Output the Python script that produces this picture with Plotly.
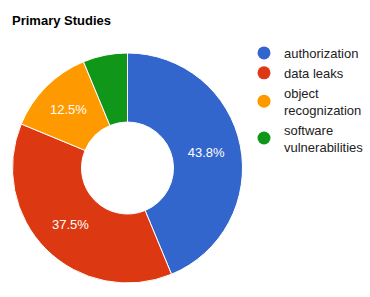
import plotly.graph_objects as go

labels = ["authorization", "data leaks", "object recognization", "software vulnerabilities"]
legend_names = ["authorization", "data leaks", "object<br>recognization", "software<br>vulnerabilities"]
values = [7, 6, 2, 1]
colors = ["#3366cc", "#dc3912", "#ff9900", "#109618"]
show_text = [True, True, True, False]

FONT = "Liberation Sans, Arial, sans-serif"

fig = go.Figure()
fig.add_trace(go.Pie(
    labels=labels,
    values=values,
    hole=0.4,
    sort=False,
    direction="clockwise",
    rotation=0,
    marker=dict(colors=colors, line=dict(color="white", width=1)),
    texttemplate=["%{percent:.1%}" if s else "" for s in show_text],
    textposition="inside",
    insidetextorientation="horizontal",
    textfont=dict(color="white", size=13, family=FONT),
    showlegend=False,
    domain=dict(x=[12/370, 243/370], y=[14/297, 244/297]),
    hoverinfo="label+percent",
))

for name, c in zip(legend_names, colors):
    fig.add_trace(go.Scatter(
        x=[None], y=[None], mode="markers", name=name,
        marker=dict(color=c, size=13, symbol="circle"),
        showlegend=True, hoverinfo="skip",
    ))

fig.update_layout(
    width=370, height=297,
    margin=dict(l=0, r=0, t=0, b=0, pad=0, autoexpand=False),
    paper_bgcolor="white", plot_bgcolor="white",
    title=dict(text="<b>Primary Studies</b>", x=12/370, xanchor="left", xref="paper",
               y=1 - 20/297, yanchor="middle", yref="paper", pad=dict(l=0, r=0, t=0, b=0),
               font=dict(family=FONT, size=13, color="black")),
    font=dict(family=FONT, size=13, color="#222222"),
    xaxis=dict(visible=False), yaxis=dict(visible=False),
    legend=dict(x=244/370, xanchor="left", y=1 - 38/297, yanchor="top",
                font=dict(family=FONT, size=13, color="#222222"),
                itemwidth=30, tracegroupgap=0,
                bgcolor="rgba(0,0,0,0)"),
)

fig.write_html("out.html", config={"displayModeBar": False},
               post_script="document.body.style.margin='0';")
